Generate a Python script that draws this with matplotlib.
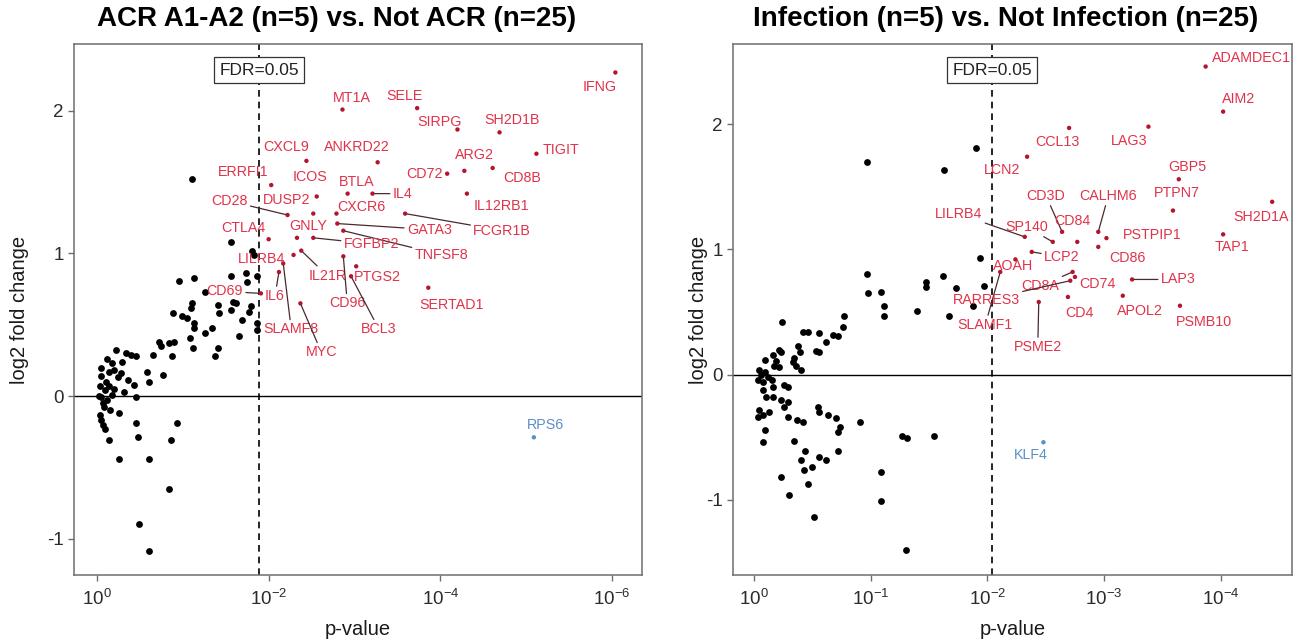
import matplotlib
matplotlib.use("Agg")
import matplotlib.pyplot as plt
import matplotlib.transforms as mtransforms
from matplotlib.ticker import FixedLocator, NullLocator, LogFormatterSciNotation
import numpy as np

plt.rcParams['font.family'] = ['Liberation Sans', 'DejaVu Sans']
plt.rcParams['mathtext.fontset'] = 'custom'
plt.rcParams['mathtext.rm'] = 'Liberation Sans'
plt.rcParams['axes.unicode_minus'] = False

# ---------------- ACR A1-A2 vs. Not ACR ----------------
acr_title = "ACR A1-A2 (n=5) vs. Not ACR (n=25)"
acr_fdr_mlogp = 1.89   # -log10 p at FDR = 0.05

# non-significant genes: (-log10 p, log2 fold change)
acr_background = [
    (1.11, 1.52), (1.56, 1.08), (1.81, 1.02), (1.83, 0.99), (0.96, 0.81), (1.13, 0.83),
    (1.56, 0.84), (1.74, 0.86), (1.75, 0.80), (1.87, 0.84), (1.26, 0.73), (1.11, 0.65),
    (1.10, 0.62), (0.89, 0.58), (0.99, 0.56), (1.05, 0.55), (1.13, 0.51), (1.13, 0.48),
    (1.34, 0.48), (1.26, 0.44), (1.41, 0.64), (1.42, 0.58), (1.56, 0.60), (1.58, 0.66),
    (1.62, 0.65), (1.80, 0.63), (1.77, 0.59), (1.69, 0.53), (1.86, 0.51), (1.66, 0.42),
    (1.08, 0.41), (1.12, 0.34), (0.84, 0.37), (0.90, 0.38), (0.72, 0.38), (0.74, 0.35),
    (0.65, 0.29), (0.87, 0.28), (1.41, 0.34), (1.38, 0.28), (0.22, 0.32), (0.34, 0.30),
    (0.40, 0.29), (0.45, 0.28), (0.29, 0.24), (0.17, 0.23), (0.05, 0.20), (0.58, 0.17),
    (0.77, 0.15), (0.61, 0.10), (0.05, 0.14), (0.14, 0.17), (0.24, 0.13), (0.28, 0.16),
    (0.36, 0.11), (0.43, 0.08), (0.03, 0.07), (0.09, 0.04), (0.14, 0.07), (0.18, 0.01),
    (0.05, -0.01), (0.12, -0.03), (0.32, 0.03), (0.45, -0.01), (0.07, -0.05), (0.03, -0.13),
    (0.05, -0.17), (0.07, -0.20), (0.09, -0.23), (0.26, -0.12), (0.14, -0.31), (0.45, -0.19),
    (0.48, -0.29), (0.26, -0.44), (0.61, -0.44), (0.86, -0.31), (0.93, -0.19), (0.84, -0.65),
    (0.49, -0.90), (0.61, -1.09), (0.10, 0.10), (0.20, 0.05), (0.08, -0.08), (0.15, -0.10),
    (0.02, 0.00), (0.12, 0.26), (0.20, 0.18), (1.86, 0.46),
]

acr_genes = ["IFNG", "MT1A", "SELE", "SIRPG", "SH2D1B", "TIGIT", "ARG2", "CD72", "CD8B",
             "IL12RB1", "ANKRD22", "BTLA", "IL4", "FCGR1B", "CXCR6", "GATA3", "TNFSF8",
             "FGFBP2", "CXCL9", "ERRFI1", "ICOS", "CD28", "DUSP2", "CTLA4", "GNLY", "LILRB4",
             "IL21R", "IL6", "SLAMF8", "CD69", "MYC", "CD96", "PTGS2", "BCL3", "SERTAD1", "RPS6"]
acr_mlogp = [6.04, 2.86, 3.73, 4.20, 4.69, 5.12, 4.28, 4.08, 4.61,
             4.31, 3.27, 2.92, 3.21, 3.59, 2.79, 2.80, 2.87,
             2.52, 2.44, 2.03, 2.56, 2.22, 2.52, 2.00, 2.33, 2.29,
             2.38, 2.12, 2.17, 1.91, 2.37, 2.87, 3.02, 2.96, 3.86, 5.09]
acr_lfc = [2.27, 2.01, 2.02, 1.87, 1.85, 1.70, 1.58, 1.56, 1.60,
           1.42, 1.64, 1.42, 1.42, 1.28, 1.28, 1.21, 1.16,
           1.11, 1.65, 1.48, 1.40, 1.27, 1.28, 1.10, 1.11, 0.99,
           1.02, 0.87, 0.93, 0.72, 0.65, 0.98, 0.91, 0.84, 0.76, -0.29]

# label placement (offset from the point, in pixels) and which labels get a leader line
acr_label_offsets = {
    "IFNG": (-16, -14), "MT1A": (9, 12), "SELE": (-13, 12), "SIRPG": (-18, 8),
    "SH2D1B": (13, 12), "TIGIT": (25, 4), "ARG2": (10, 16), "CD72": (-23, 0),
    "CD8B": (30, -10), "IL12RB1": (35, -12), "ANKRD22": (-21, 15), "BTLA": (9, 12),
    "IL4": (30, 0), "FCGR1B": (97, -17), "CXCR6": (25, 7), "GATA3": (92, -6),
    "TNFSF8": (98, -24), "FGFBP2": (58, -6), "CXCL9": (-20, 14), "ERRFI1": (-28, 13),
    "ICOS": (-7, 19), "CD28": (-58, 14), "DUSP2": (-27, 14), "CTLA4": (-25, 11),
    "GNLY": (11, 12), "LILRB4": (-32, -4), "IL21R": (26, -25), "IL6": (-4, -24),
    "SLAMF8": (8, -66), "CD69": (-36, 2), "MYC": (21, -49), "CD96": (4, -47),
    "PTGS2": (21, -11), "BCL3": (28, -53), "SERTAD1": (23, -17), "RPS6": (12, 12),
}
acr_segments = ["IL4", "FCGR1B", "GATA3", "TNFSF8", "FGFBP2", "CD28", "IL21R", "IL6",
                "SLAMF8", "CD69", "MYC", "CD96", "BCL3"]

# ---------------- Infection vs. Not Infection ----------------
inf_title = "Infection (n=5) vs. Not Infection (n=25)"
inf_fdr_mlogp = 2.04

inf_background = [
    (0.97, 1.70), (1.63, 1.63), (1.90, 1.81), (1.94, 0.93), (1.97, 0.71), (1.88, 0.55),
    (0.97, 0.80), (0.98, 0.65), (1.09, 0.66), (1.11, 0.55), (1.11, 0.47), (1.40, 0.51),
    (1.47, 0.74), (1.47, 0.70), (1.62, 0.79), (1.73, 0.69), (1.67, 0.47), (0.77, 0.47),
    (0.24, 0.42), (0.42, 0.34), (0.46, 0.34), (0.56, 0.33), (0.68, 0.32), (0.76, 0.38),
    (0.62, 0.26), (0.72, 0.31), (0.21, 0.20), (0.23, 0.18), (0.16, 0.16), (0.09, 0.12),
    (0.19, 0.11), (0.17, 0.07), (0.21, 0.06), (0.38, 0.23), (0.39, 0.18), (0.34, 0.13),
    (0.33, 0.10), (0.36, 0.07), (0.40, 0.04), (0.53, 0.19), (0.56, 0.18), (0.04, 0.04),
    (0.06, 0.00), (0.09, 0.02), (0.12, -0.02), (0.03, -0.04), (0.08, -0.06), (0.15, -0.04),
    (0.26, -0.08), (0.29, -0.10), (0.16, -0.10), (0.08, -0.12), (0.10, -0.18), (0.16, -0.18),
    (0.23, -0.20), (0.29, -0.22), (0.26, -0.26), (0.04, -0.28), (0.08, -0.32), (0.13, -0.30),
    (0.03, -0.34), (0.29, -0.34), (0.37, -0.36), (0.42, -0.38), (0.55, -0.26), (0.56, -0.30),
    (0.63, -0.32), (0.70, -0.35), (0.74, -0.42), (0.72, -0.46), (0.91, -0.38), (0.09, -0.44),
    (0.08, -0.54), (0.34, -0.53), (0.44, -0.61), (0.40, -0.68), (0.56, -0.66), (0.62, -0.68),
    (0.72, -0.61), (0.43, -0.76), (0.50, -0.74), (0.23, -0.82), (0.46, -0.87), (0.30, -0.96),
    (0.51, -1.14), (1.09, -0.78), (1.09, -1.01), (1.27, -0.49), (1.31, -0.51), (1.54, -0.49),
    (1.30, -1.40),
]

inf_genes = ["ADAMDEC1", "AIM2", "LAG3", "CCL13", "LCN2", "GBP5", "PTPN7", "SH2D1A", "TAP1",
             "CD3D", "CD84", "SP140", "LILRB4", "LCP2", "CALHM6", "PSTPIP1", "CD86", "AOAH",
             "SLAMF1", "CD74", "CD8A", "RARRES3", "PSME2", "CD4", "APOL2", "LAP3", "PSMB10",
             "KLF4"]
inf_mlogp = [3.87, 4.02, 3.38, 2.70, 2.34, 3.64, 3.59, 4.44, 4.02,
             2.64, 2.77, 2.56, 2.32, 2.38, 2.95, 3.02, 2.95, 2.24,
             2.11, 2.75, 2.73, 2.71, 2.44, 2.69, 3.16, 3.24, 3.65,
             2.48]
inf_lfc = [2.46, 2.10, 1.98, 1.97, 1.74, 1.56, 1.31, 1.38, 1.12,
           1.14, 1.06, 1.06, 1.10, 0.98, 1.14, 1.09, 1.02, 0.92,
           0.82, 0.78, 0.82, 0.75, 0.58, 0.62, 0.63, 0.76, 0.55,
           -0.54]

inf_label_offsets = {
    "ADAMDEC1": (46, 9), "AIM2": (15, 13), "LAG3": (-19, -14), "CCL13": (-12, -14),
    "LCN2": (-25, -13), "GBP5": (9, 12), "PTPN7": (4, 18), "SH2D1A": (-11, -15),
    "TAP1": (9, -13), "CD3D": (-16, 36), "CD84": (-5, 21), "SP140": (-26, 15),
    "LILRB4": (-66, 23), "LCP2": (30, -5), "CALHM6": (10, 36), "PSTPIP1": (46, 3),
    "CD86": (29, -11), "AOAH": (-2, -7), "SLAMF1": (-15, -53), "CD74": (23, -7),
    "CD8A": (-32, -14), "RARRES3": (-84, -19), "PSME2": (-1, -45), "CD4": (12, -16),
    "APOL2": (17, -15), "LAP3": (46, 0), "PSMB10": (24, -16), "KLF4": (-13, -13),
}
inf_segments = ["CD3D", "LILRB4", "CALHM6", "SLAMF1", "CD8A", "RARRES3", "PSME2",
                "LAP3", "SP140", "LCP2"]

UP_TEXT, UP_POINT = "#E0334A", "#B3152E"
DOWN_TEXT = "#5B8FC9"
SEGMENT = "#4a2a2e"
AXIS_GREY = "#6e6e6e"


def draw_panel(ax, background, genes, mlogp, lfc, offsets, segments, fdr_mlogp,
               xlim_m, ylim, tick_exps):
    bg = np.array(background)
    ax.scatter(10.0 ** -bg[:, 0], bg[:, 1], s=24, color="black", linewidths=0, zorder=3)

    ax.axhline(0, color="black", lw=1.0, zorder=2)
    fdr_p = 10.0 ** -fdr_mlogp
    ax.axvline(fdr_p, color="black", lw=1.2, ls=(0, (4, 3)), zorder=2)

    p = 10.0 ** -np.asarray(mlogp)
    lfc = np.asarray(lfc)
    pt_col = [UP_POINT if v > 0 else DOWN_TEXT for v in lfc]
    ax.scatter(p, lfc, s=10, color=pt_col, linewidths=0, zorder=4)

    for g, xp, y in zip(genes, p, lfc):
        dx, dy = offsets[g]
        col = UP_TEXT if y > 0 else DOWN_TEXT
        arrow = None
        if g in segments:
            arrow = dict(arrowstyle="-", color=SEGMENT, lw=0.9, shrinkA=0, shrinkB=1.5)
        ax.annotate(g, xy=(xp, y), xytext=(dx, dy), textcoords="offset pixels",
                    ha="center", va="center", fontsize=10.3, color=col,
                    arrowprops=arrow, zorder=5)

    trans = mtransforms.blended_transform_factory(ax.transData, ax.transAxes)
    ax.text(fdr_p, 0.951, "FDR=0.05", transform=trans, ha="center", va="center",
            fontsize=12.5, color="#222222", zorder=6,
            bbox=dict(boxstyle="square,pad=0.3", fc="white", ec="#333333", lw=0.9))

    ax.set_xscale("log")
    ax.set_xlim(10.0 ** -xlim_m[0], 10.0 ** -xlim_m[1])
    ax.set_ylim(*ylim)
    ax.xaxis.set_major_locator(FixedLocator([10.0 ** -e for e in tick_exps]))
    ax.xaxis.set_minor_locator(NullLocator())
    ax.xaxis.set_major_formatter(LogFormatterSciNotation())
    ax.set_yticks([-1, 0, 1, 2])

    for s in ax.spines.values():
        s.set_color(AXIS_GREY)
        s.set_linewidth(1.1)
    ax.tick_params(axis="both", which="major", labelsize=13.5, colors=AXIS_GREY,
                   labelcolor="#2b2b2b", length=4, width=1)
    ax.tick_params(axis="x", pad=6)
    ax.set_xlabel("p-value", fontsize=14.5, color="#1a1a1a")
    ax.set_ylabel("log2 fold change", fontsize=14.5, color="#1a1a1a")


W, H = 1298, 643
fig = plt.figure(figsize=(W / 100, H / 100), dpi=100)

ax1 = fig.add_axes([74 / W, (H - 575) / H, (642 - 74) / W, (575 - 44) / H])
ax2 = fig.add_axes([733 / W, (H - 575) / H, (1292 - 733) / W, (575 - 44) / H])

draw_panel(ax1, acr_background, acr_genes, acr_mlogp, acr_lfc, acr_label_offsets,
           acr_segments, acr_fdr_mlogp, (-0.268, 6.35), (-1.256, 2.47), [0, 2, 4, 6])
draw_panel(ax2, inf_background, inf_genes, inf_mlogp, inf_lfc, inf_label_offsets,
           inf_segments, inf_fdr_mlogp, (-0.18, 4.61), (-1.60, 2.64), [0, 1, 2, 3, 4])

ax1.yaxis.set_label_coords(-0.080, 0.5)
ax2.yaxis.set_label_coords(-0.044, 0.5)
ax1.xaxis.set_label_coords(0.5, -0.085)
ax2.xaxis.set_label_coords(0.5, -0.085)

fig.text(337 / W, 1 - 19 / H, acr_title, ha="center", va="center",
         fontsize=20, fontweight="bold", color="black")
fig.text(1006 / W, 1 - 19 / H, inf_title, ha="center", va="center",
         fontsize=20, fontweight="bold", color="black")

fig.savefig("out.png", dpi=100, facecolor="white")
